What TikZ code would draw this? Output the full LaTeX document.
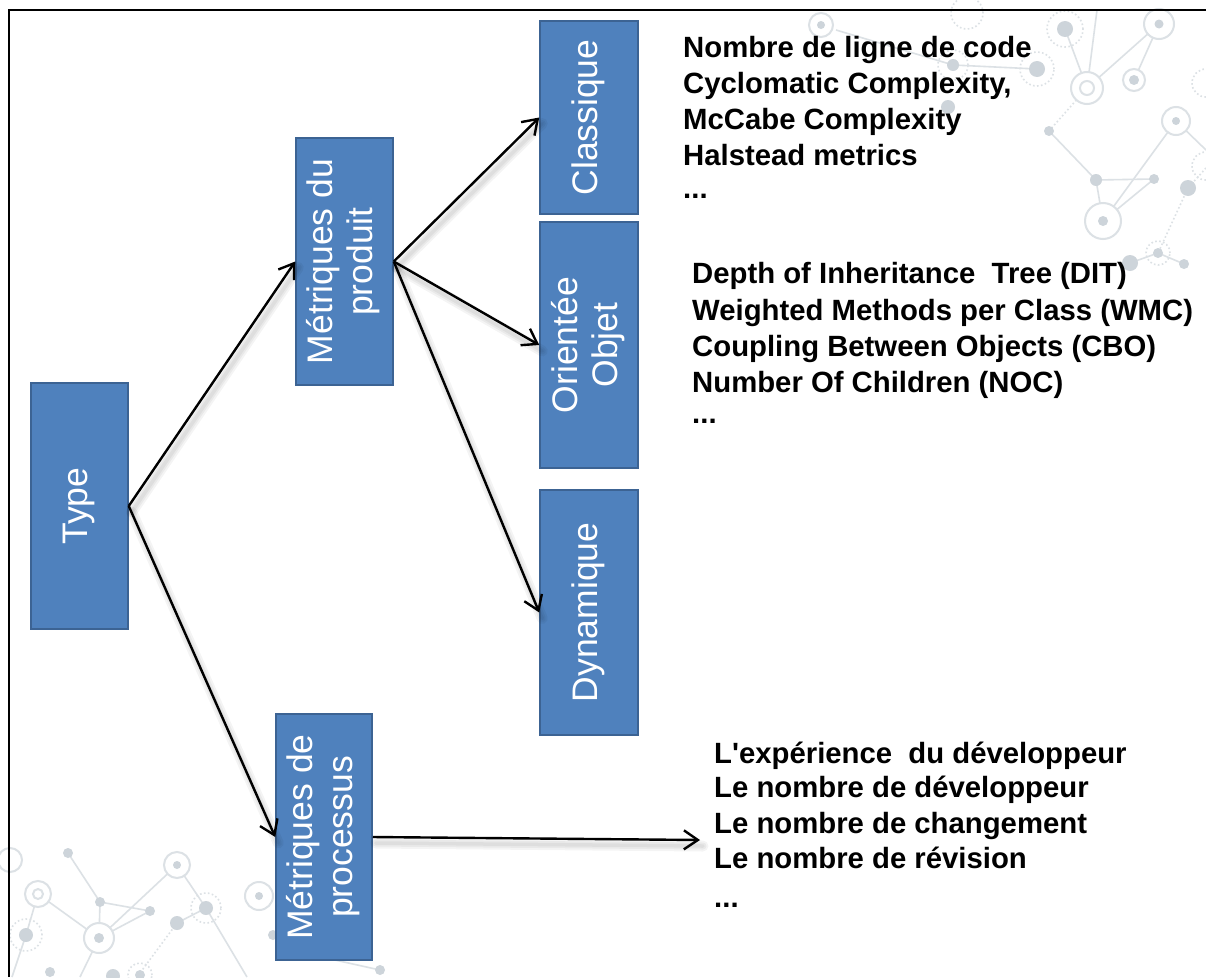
\documentclass[tikz,border=0pt]{standalone}
\usepackage{fontspec}
\usepackage{graphicx}
\setmainfont{Liberation Sans}
% list font without the TeX quote mapping, so ' stays straight
\newfontfamily\listfont{Liberation Sans}
\usetikzlibrary{arrows.meta}

\definecolor{boxfill}{HTML}{4F81BD}
\definecolor{boxline}{HTML}{3C6393}
\definecolor{netdot}{HTML}{CDD4DA}
\definecolor{netline}{HTML}{DCE1E5}

\tikzset{
  box/.style={draw=boxline, line width=1.5pt, fill=boxfill, text=white,
    inner sep=0pt, font=\fontsize{35.5}{40}\selectfont},
  link/.style={line width=2.4pt, -{Straight Barb[length=14pt,width=19pt]}},
  linkshade/.style={line width=#1, draw=black, draw opacity=0.045, line cap=round},
  item/.style={anchor=base west, inner sep=0pt,
    font=\listfont\bfseries\fontsize{29.3}{36}\selectfont},
  netln/.style={draw=netline, line width=1.6pt},
  netdash/.style={draw=netline, line width=1.6pt, dash pattern=on 1.6pt off 2.4pt},
  netdt/.style={fill=netdot},
  netring/.style={draw=netline, line width=2pt, fill=white},
  netdring/.style={draw=netline, line width=1.6pt, dash pattern=on 1.6pt off 2.4pt},
}

\newcommand{\vtext}[1]{\rotatebox{90}{\begin{tabular}{@{}c@{}}#1\end{tabular}}}

\begin{document}
\begin{tikzpicture}[x=1pt, y=-1pt]
\useasboundingbox (0,0) rectangle (1206,977);
\fill[white] (0,0) rectangle (1206,977);

% ---------- network pattern, upper right ----------
\begin{scope}
  \draw[netln] (836,30) -- (953,65) -- (1037,69);
  \draw[netln] (1065,29) -- (1087,88) -- (1097,10);
  \draw[netln] (1087,88) -- (1159,24) -- (1134,80);
  \draw[netdash] (1087,88) -- (1049,131);
  \draw[netln] (1049,131) -- (1096,180) -- (1154,179);
  \draw[netln] (1096,180) -- (1103,221) -- (1176,121) -- (1206,150);
  \draw[netln] (1103,221) -- (1154,179);
  \draw[netdash] (1206,168) -- (1188,188) -- (1158,253);
  \draw[netln] (1130,263) -- (1158,253) -- (1184,264);
  \draw[netdring] (967,13) circle (16pt);
  \draw[netdring] (1065,29) circle (18pt);
  \fill[netdt] (1065,29) circle (8pt);
  \draw[netdring] (1037,69) circle (17pt);
  \fill[netdt] (1037,69) circle (8pt);
  \draw[netdring] (953,65) circle (15pt);
  \fill[netdt] (953,65) circle (6pt);
  \fill[netdt] (948,107) circle (7pt);
  \draw[netring] (821,25) circle (12pt);
  \fill[netdt] (821,25) circle (4pt);
  \draw[netring] (1087,88) circle (16pt);
  \draw[netring] (1087,88) circle (7pt);
  \draw[netring] (1159,24) circle (15pt);
  \fill[netdt] (1159,24) circle (4.5pt);
  \draw[netring] (1134,80) circle (11pt);
  \fill[netdt] (1134,80) circle (5pt);
  \fill[netdt] (1049,131) circle (5pt);
  \draw[netring] (1176,121) circle (14pt);
  \fill[netdt] (1176,121) circle (4pt);
  \fill[netdt] (1096,180) circle (6pt);
  \fill[netdt] (1154,179) circle (5pt);
  \draw[netring] (1103,221) circle (18pt);
  \fill[netdt] (1103,221) circle (5pt);
  \fill[netdt] (1188,188) circle (8pt);
  \draw[netdring] (1206,83) circle (14pt);
  \draw[netdring] (1206,166) circle (14pt);
  \draw[netdring] (1158,253) circle (12pt);
  \fill[netdt] (1158,253) circle (5pt);
  \fill[netdt] (1130,263) circle (8pt);
  \fill[netdt] (1184,264) circle (5pt);
\end{scope}

% ---------- network pattern, lower left ----------
\begin{scope}
  \draw[netln] (68,853) -- (100,902) -- (150,911) -- (99,938) -- (100,902);
  \draw[netln] (38,894) -- (99,938) -- (177,865) -- (206,908) -- (247,977);
  \draw[netln] (38,894) -- (26,935) -- (12,977);
  \draw[netln] (99,938) -- (80,977);
  \draw[netln] (206,908) -- (177,923);
  \draw[netdash] (177,923) -- (140,973);
  \draw[netln] (335,960) -- (380,970);
  \draw[netring] (10,860) circle (12pt);
  \fill[netdt] (68,853) circle (5pt);
  \draw[netring] (38,894) circle (13pt);
  \draw[netring] (38,894) circle (5pt);
  \draw[netdring] (26,935) circle (16pt);
  \fill[netdt] (26,935) circle (7pt);
  \fill[netdt] (100,902) circle (5pt);
  \fill[netdt] (150,911) circle (5pt);
  \draw[netring] (99,938) circle (15pt);
  \fill[netdt] (99,938) circle (5pt);
  \draw[netring] (177,865) circle (13pt);
  \fill[netdt] (177,865) circle (4pt);
  \draw[netdring] (206,908) circle (15pt);
  \fill[netdt] (206,908) circle (7pt);
  \fill[netdt] (177,923) circle (7pt);
  \draw[netring] (259,896) circle (14pt);
  \fill[netdt] (259,896) circle (4pt);
  \fill[netdt] (50,972) circle (5pt);
  \fill[netdt] (113,976) circle (7pt);
  \draw[netdring] (140,975) circle (12pt);
  \fill[netdt] (140,975) circle (5pt);
  \fill[netdt] (273,935) circle (5pt);
  \fill[netdt] (380,970) circle (5pt);
\end{scope}

% ---------- frame ----------
\draw[line width=2pt] (9,977) -- (9,10) -- (1206,10);

% ---------- boxes ----------
\node[box, minimum width=97pt, minimum height=246pt] (typ)  at (79.5,506)  {\vtext{Type}};
\node[box, minimum width=97pt, minimum height=247pt] (prod) at (344.5,261.5) {\vtext{Métriques du\\produit}};
\node[box, minimum width=96pt, minimum height=246pt] (proc) at (324,837)   {\vtext{Métriques de\\processus}};
\node[box, minimum width=98pt, minimum height=193pt] (cla)  at (589,117.5) {\vtext{Classique}};
\node[box, minimum width=98pt, minimum height=246pt] (obj)  at (589,345)   {\vtext{Orientée\\Objet}};
\node[box, minimum width=98pt, minimum height=245pt] (dyn)  at (589,612.5) {\vtext{Dynamique}};

\coordinate (procend) at (700,840);

% ---------- soft shadows under the connectors ----------
\begin{scope}[transform canvas={shift={(3pt,-6pt)}}]
  \foreach \w in {11pt,7pt,3.5pt}{
    \draw[linkshade=\w] (typ.east) -- (prod.west);
    \draw[linkshade=\w] (typ.east) -- (proc.west);
    \draw[linkshade=\w] (prod.east) -- (cla.west);
    \draw[linkshade=\w] (prod.east) -- (obj.west);
    \draw[linkshade=\w] (prod.east) -- (dyn.west);
    \draw[linkshade=\w] (proc.east) -- (procend);
  }
\end{scope}

% ---------- connectors ----------
\draw[link] (typ.east) -- (prod.west);
\draw[link] (typ.east) -- (proc.west);
\draw[link] (prod.east) -- (cla.west);
\draw[link] (prod.east) -- (obj.west);
\draw[link] (prod.east) -- (dyn.west);
\draw[link] (proc.east) -- (procend);

% ---------- metric lists ----------
\node[item] (c1) at (683,57.5)  {Nombre de ligne de code};
\node[item] (c2) at (683,93)    {Cyclomatic Complexity,};
\node[item] (c3) at (683,129)   {McCabe Complexity};
\node[item] (c4) at (683,165)   {Halstead metrics};
\node[item] (c5) at (683,198)   {...};

\node[item] (o1) at (692,283)   {Depth of Inheritance\ \ Tree (DIT)};
\node[item] (o2) at (692,320)   {Weighted Methods per Class (WMC)};
\node[item] (o3) at (692,356)   {Coupling Between Objects (CBO)};
\node[item] (o4) at (692,392)   {Number Of Children (NOC)};
\node[item] (o5) at (692,423)   {...};

\node[item] (p1) at (714,763)   {L'expérience\ \ du développeur};
\node[item] (p2) at (714,797)   {Le nombre de développeur};
\node[item] (p3) at (714,833)   {Le nombre de changement};
\node[item] (p4) at (714,868)   {Le nombre de révision};
\node[item] (p5) at (714,907)   {...};
\end{tikzpicture}
\end{document}
